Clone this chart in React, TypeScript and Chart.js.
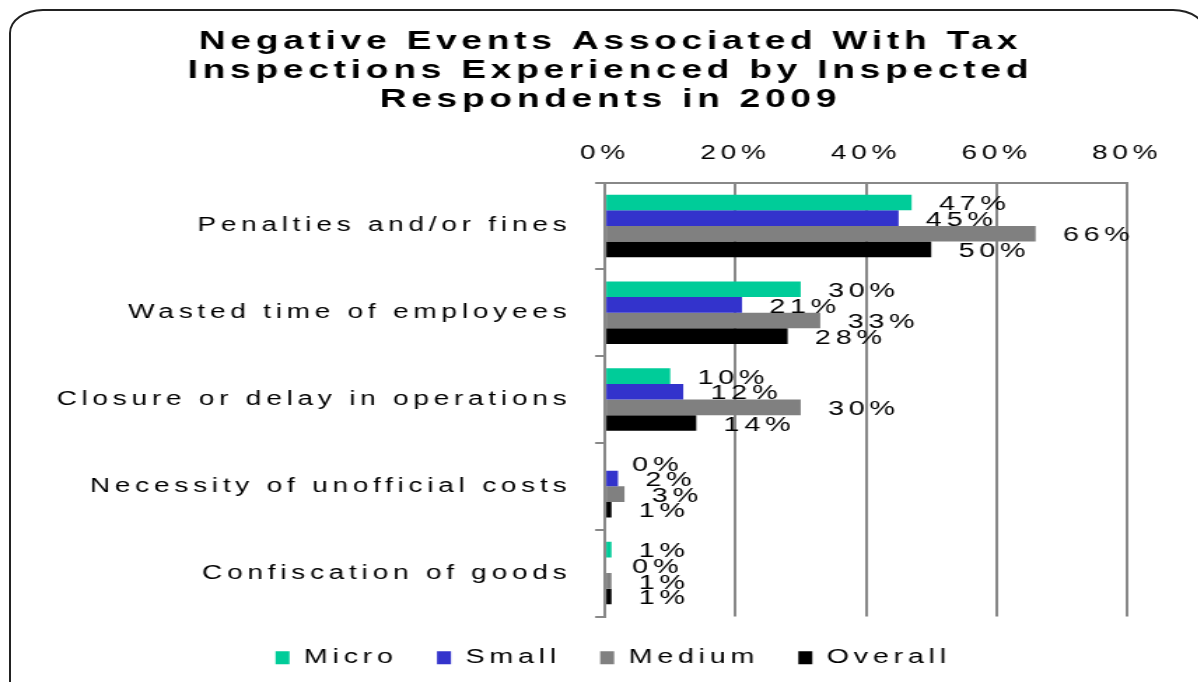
import React, { useEffect, useRef } from "react";
import { Chart, registerables } from "chart.js";

Chart.register(...registerables);

const categories = [
  "Penalties and/or fines",
  "Wasted time of employees",
  "Closure or delay in operations",
  "Necessity of unofficial costs",
  "Confiscation of goods",
];
const seriesNames = ["Micro", "Small", "Medium", "Overall"];
const micro = [47, 30, 10, 0, 1];
const small = [45, 21, 12, 2, 0];
const medium = [66, 33, 30, 3, 1];
const overall = [50, 28, 14, 1, 1];
const seriesColors = ["#00CC99", "#3333CC", "#808080", "#000000"];
const titleLines = [
  "Negative Events Associated With Tax",
  "Inspections Experienced by Inspected",
  "Respondents in 2009",
];
const xMin = 0;
const xMax = 80;
const xStep = 20;

const FONT = "'Liberation Sans', Arial, sans-serif";
const STRETCH = 1.4;
const PRE_W = 856;
const H = 682;
const SPACING = "3.4px";
const CENTER_SHIFT = 67;

const spacingPlugin = {
  id: "spacing",
  beforeUpdate(chart: any) {
    chart.ctx.letterSpacing = SPACING;
  },
  afterLayout(chart: any) {
    const lg = chart.legend;
    if (lg) {
      lg.left = CENTER_SHIFT + 4;
      lg.width = lg.right - lg.left;
      lg.top += 3;
      lg.bottom += 3;
    }
    const tb = chart.titleBlock;
    if (tb) {
      tb.left = CENTER_SHIFT;
      tb.width = tb.right - tb.left;
    }
  },
  beforeDraw(chart: any) {
    chart.ctx.letterSpacing = SPACING;
  },
};

const labelPlugin = {
  id: "barLabels",
  afterDatasetsDraw(chart: any) {
    const ctx = chart.ctx;
    ctx.save();
    ctx.letterSpacing = SPACING;
    ctx.font = `20.5px ${FONT}`;
    ctx.fillStyle = "#000";
    ctx.textAlign = "left";
    ctx.textBaseline = "middle";
    chart.data.datasets.forEach((ds: any, di: number) => {
      const meta = chart.getDatasetMeta(di);
      meta.data.forEach((el: any, i: number) => {
        ctx.fillText(`${ds.data[i]}%`, el.x + 19.5, el.y + 2);
      });
    });
    ctx.restore();
  },
};

export default function App() {
  const ref = useRef<HTMLCanvasElement | null>(null);
  useEffect(() => {
    if (!ref.current) return;
    const values = [micro, small, medium, overall];
    const chart = new Chart(ref.current, {
      type: "bar",
      data: {
        labels: categories,
        datasets: seriesNames.map((n, i) => ({
          label: n,
          data: values[i],
          backgroundColor: seriesColors[i],
          borderWidth: 0,
          categoryPercentage: 0.72,
          barPercentage: 1,
        })),
      },
      options: {
        indexAxis: "y",
        responsive: false,
        animation: false,
        devicePixelRatio: 1,
        layout: { padding: { left: 0, right: 51, top: 0, bottom: 7 } },
        plugins: {
          title: {
            display: true,
            text: titleLines,
            color: "#000",
            font: { family: FONT, size: 26.5, weight: "bold", lineHeight: 1.095 },
            padding: { top: 27.5, bottom: 0 },
          },
          legend: {
            position: "bottom",
            labels: {
              boxWidth: 10,
              boxHeight: 13,
              padding: 28,
              color: "#000",
              font: { family: FONT, size: 20.5 },
            },
          },
          tooltip: { enabled: false },
        },
        scales: {
          x: {
            position: "top",
            min: xMin,
            max: xMax,
            ticks: {
              stepSize: xStep,
              color: "#000",
              font: { family: FONT, size: 20 },
              padding: 17,
              callback: (v: any) => `${v}%`,
            },
            grid: { color: "#888", lineWidth: 2, drawTicks: false },
            border: { display: true, color: "#888", width: 2 },
            afterFit: (s: any) => {
              s.height = 68;
            },
          },
          y: {
            ticks: {
              color: "#000",
              font: { family: FONT, size: 20 },
              padding: 17,
            },
            grid: {
              offset: true,
              drawOnChartArea: false,
              drawTicks: true,
              tickLength: 7,
              color: "#888",
              lineWidth: 2,
            },
            border: { display: true, color: "#888", width: 2 },
            afterFit: (s: any) => {
              s.width = 432.1;
            },
          },
        },
      },
      plugins: [spacingPlugin, labelPlugin],
    } as any);
    return () => chart.destroy();
  }, []);

  return (
    <div
      style={{
        position: "fixed",
        left: 0,
        top: 0,
        width: 1198,
        height: 682,
        overflow: "hidden",
        background: "#fff",
      }}
    >
      <div
        style={{
          position: "absolute",
          left: 0,
          top: 0,
          width: PRE_W,
          height: H,
          transform: `scaleX(${STRETCH})`,
          transformOrigin: "0 0",
        }}
      >
        <canvas
          ref={ref}
          width={PRE_W}
          height={H}
          style={{ width: PRE_W, height: H, display: "block" }}
        />
      </div>
      <div
        style={{
          position: "absolute",
          left: 9,
          top: 9,
          width: 1198,
          height: 700,
          border: "2px solid #222",
          borderRadius: "34px / 24px",
          boxSizing: "border-box",
          pointerEvents: "none",
        }}
      />
    </div>
  );
}
